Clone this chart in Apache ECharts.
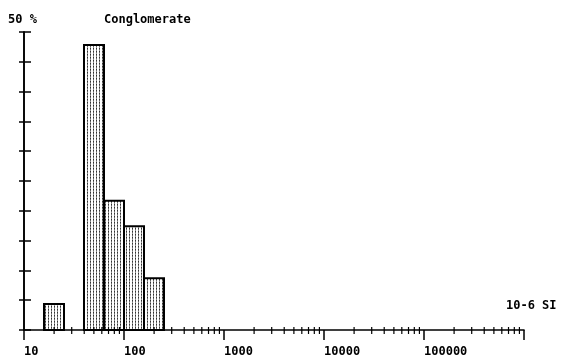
<!DOCTYPE html>
<html>
<head>
<meta charset="utf-8">
<script src="https://cdn.jsdelivr.net/npm/echarts@6/dist/echarts.min.js"></script>
<style>
html,body{margin:0;padding:0;background:#fff;}
#c{width:562px;height:364px;}
</style>
</head>
<body>
<div id="c"></div>
<script>
// Histogram bins (magnetic susceptibility, 10-6 SI) on a log axis
var binLow  = [15.85, 39.81, 63.10, 100.0, 158.5];
var binHigh = [25.12, 63.10, 100.0, 158.5, 251.2];
var percent = [4.35, 47.8, 21.7, 17.4, 8.7];
// axis ticks
var decades = [10, 100, 1000, 10000, 100000];
var minorMultipliers = [2, 3, 4, 5, 6, 7, 8, 9];
var xLabels = ['10', '100', '1000', '10000', '100000'];

var FONT = 'DejaVu Sans Mono';

// hatch pattern (vertical dotted lines)
var pc = document.createElement('canvas');
pc.width = 3; pc.height = 3;
var g = pc.getContext('2d');
g.fillStyle = '#fff'; g.fillRect(0, 0, 3, 3);
g.fillStyle = '#333'; g.fillRect(0, 0, 1, 1);
g.fillStyle = '#666'; g.fillRect(0, 1, 1, 1);
g.fillStyle = '#999'; g.fillRect(0, 2, 1, 1);

var barData = binLow.map(function (lo, i) { return [lo, binHigh[i], percent[i]]; });
var minorData = [];
decades.forEach(function (d) {
  minorMultipliers.forEach(function (m) { minorData.push([d * m]); });
});

var txt = {fontFamily: FONT, fontSize: 12, fontWeight: 'bold', color: '#000'};
var chart = echarts.init(document.getElementById('c'), null, {renderer: 'canvas'});
chart.setOption({
  animation: false,
  backgroundColor: '#fff',
  title: [
    {text: '50 %', left: 8, top: 14, padding: 0, textStyle: txt},
    {text: 'Conglomerate', left: 104, top: 14, padding: 0, textStyle: txt},
    {text: '10-6 SI', left: 506, top: 300, padding: 0, textStyle: txt}
  ],
  grid: {left: 24, right: 38, top: 32, bottom: 34},
  xAxis: {
    type: 'log', logBase: 10, min: 10, max: 1000000, interval: 1,
    axisLine: {lineStyle: {color: '#000', width: 1.6}},
    axisTick: {show: true, length: 10, lineStyle: {color: '#000', width: 1.5}},
    splitLine: {show: false},
    axisLabel: {
      align: 'left', margin: 16, color: '#000', fontFamily: FONT, fontSize: 12, fontWeight: 'bold',
      formatter: function (v) {
        var i = decades.indexOf(Math.round(v));
        return i >= 0 ? xLabels[i] : '';
      }
    }
  },
  yAxis: [{
    type: 'value', min: 0, max: 50, interval: 5,
    axisLine: {show: true, lineStyle: {color: '#000', width: 1.6}},
    axisTick: {show: true, length: 5, lineStyle: {color: '#000', width: 1.5}},
    axisLabel: {show: false},
    splitLine: {show: false}
  }, {
    type: 'value', min: 0, max: 50, interval: 5, position: 'left',
    axisLine: {show: true, lineStyle: {color: '#000', width: 1.6}},
    axisTick: {show: true, inside: true, length: 7, lineStyle: {color: '#000', width: 1.5}},
    axisLabel: {show: false},
    splitLine: {show: false}
  }],
  series: [{
    type: 'custom',
    data: barData,
    renderItem: function (params, api) {
      var p0 = api.coord([api.value(0), 0]);
      var p1 = api.coord([api.value(1), api.value(2)]);
      return {
        type: 'rect',
        shape: {x: p0[0], y: p1[1], width: p1[0] - p0[0], height: p0[1] - p1[1]},
        style: {fill: {image: pc, repeat: 'repeat'}, stroke: '#000', lineWidth: 2}
      };
    },
    z: 1
  }, {
    type: 'custom',
    data: minorData,
    renderItem: function (params, api) {
      var p = api.coord([api.value(0), 0]);
      return {
        type: 'line',
        shape: {x1: p[0], y1: p[1] - 3, x2: p[0], y2: p[1] + 4},
        style: {stroke: '#000', lineWidth: 1.2}
      };
    },
    z: 3
  }]
});
</script>
</body>
</html>
